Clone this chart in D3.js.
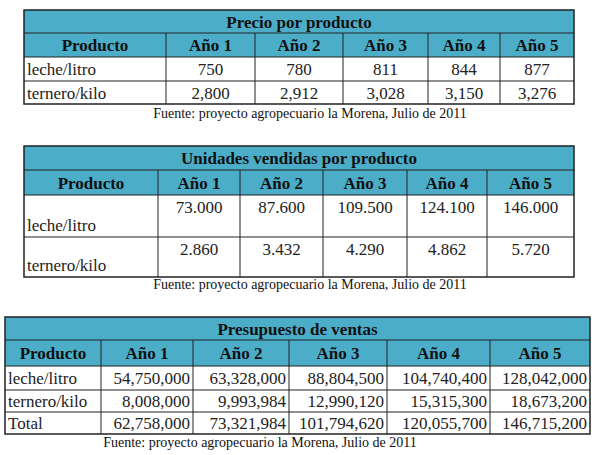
<!DOCTYPE html>
<html><head><meta charset="utf-8">
<script src="https://cdn.jsdelivr.net/npm/d3@7"></script>
<style>body{margin:0;background:#fff}</style>
</head><body><svg width="600" height="455"></svg>
<script>
// data
const years = ["Año 1", "Año 2", "Año 3", "Año 4", "Año 5"];
const products = ["leche/litro", "ternero/kilo"];
const priceLeche = ["750", "780", "811", "844", "877"];
const priceTernero = ["2,800", "2,912", "3,028", "3,150", "3,276"];
const unitsLeche = ["73.000", "87.600", "109.500", "124.100", "146.000"];
const unitsTernero = ["2.860", "3.432", "4.290", "4.862", "5.720"];
const salesLeche = ["54,750,000", "63,328,000", "88,804,500", "104,740,400", "128,042,000"];
const salesTernero = ["8,008,000", "9,993,984", "12,990,120", "15,315,300", "18,673,200"];
const salesTotal = ["62,758,000", "73,321,984", "101,794,620", "120,055,700", "146,715,200"];
const source = "Fuente: proyecto agropecuario la Morena, Julio de 2011";

const svg = d3.select("svg");
const font = "'Liberation Serif','Times New Roman',serif";
const headFill = "#4badc8";

// draws one table: cols = x edges, rows = y edges (title, header, body rows)
function drawTable(t) {
    const g = svg.append("g");
    const x0 = t.cols[0], x1 = t.cols[t.cols.length - 1];
    const header = ["Producto"].concat(years);
    // title band + header band
    g.append("rect").attr("x", x0).attr("y", t.rows[0]).attr("width", x1 - x0)
        .attr("height", t.rows[2] - t.rows[0]).attr("fill", headFill);
    g.append("text").attr("x", (x0 + x1) / 2).attr("y", (t.rows[0] + t.rows[1]) / 2 + 6)
        .attr("text-anchor", "middle").attr("font-weight", "bold").attr("font-size", 17)
        .attr("font-family", font).attr("fill", "#111").text(t.title);
    header.forEach((h, i) => {
        g.append("text").attr("x", (t.cols[i] + t.cols[i + 1]) / 2)
            .attr("y", (t.rows[1] + t.rows[2]) / 2 + 6).attr("text-anchor", "middle")
            .attr("font-weight", "bold").attr("font-size", 17).attr("font-family", font)
            .attr("fill", "#111").text(h);
    });
    // body
    t.body.forEach((row, r) => {
        const ya = t.rows[r + 2], yb = t.rows[r + 3];
        const ly = t.labelBottom ? yb - 6 : (ya + yb) / 2 + 6;
        g.append("text").attr("x", x0 + 3).attr("y", ly).attr("font-size", 17)
            .attr("font-family", font).attr("fill", "#222").text(t.labels[r]);
        row.forEach((v, i) => {
            const ca = t.cols[i + 1], cb = t.cols[i + 2];
            const vy = t.valueTop ? ya + 18 : (ya + yb) / 2 + 6;
            g.append("text")
                .attr("x", t.align === "end" ? cb - 3 : (ca + cb) / 2)
                .attr("y", vy).attr("text-anchor", t.align)
                .attr("font-size", 17).attr("font-family", font).attr("fill", "#222").text(v);
        });
    });
    // grid lines
    t.rows.slice(1, -1).forEach(y => g.append("line").attr("x1", x0).attr("x2", x1)
        .attr("y1", y).attr("y2", y).attr("stroke", "#222").attr("stroke-width", 1));
    t.cols.slice(1, -1).forEach(x => g.append("line").attr("x1", x).attr("x2", x)
        .attr("y1", t.rows[1]).attr("y2", t.rows[t.rows.length - 1])
        .attr("stroke", "#222").attr("stroke-width", 1));
    g.append("rect").attr("x", x0).attr("y", t.rows[0]).attr("width", x1 - x0)
        .attr("height", t.rows[t.rows.length - 1] - t.rows[0])
        .attr("fill", "none").attr("stroke", "#222").attr("stroke-width", 1.5);
    // source
    g.append("text").attr("x", t.srcX).attr("y", t.srcY).attr("text-anchor", "middle")
        .attr("font-size", 14).attr("font-family", font).attr("fill", "#111").text(source);
}

drawTable({
    title: "Precio por producto", labels: products, body: [priceLeche, priceTernero],
    cols: [24, 166, 255, 343, 428, 500, 574], rows: [10, 33, 57, 81, 104],
    align: "middle", srcX: 310, srcY: 118
});
drawTable({
    title: "Unidades vendidas por producto", labels: products, body: [unitsLeche, unitsTernero],
    cols: [24, 158, 240, 323, 407, 487, 574], rows: [146, 170, 195, 237, 277],
    align: "middle", valueTop: true, labelBottom: true, srcX: 310, srcY: 289
});
drawTable({
    title: "Presupuesto de ventas", labels: products.concat(["Total"]),
    body: [salesLeche, salesTernero, salesTotal],
    cols: [5, 101, 193, 289, 387, 490, 590], rows: [317, 340, 366, 390, 412, 434],
    align: "end", srcX: 260, srcY: 447
});
</script></body></html>
